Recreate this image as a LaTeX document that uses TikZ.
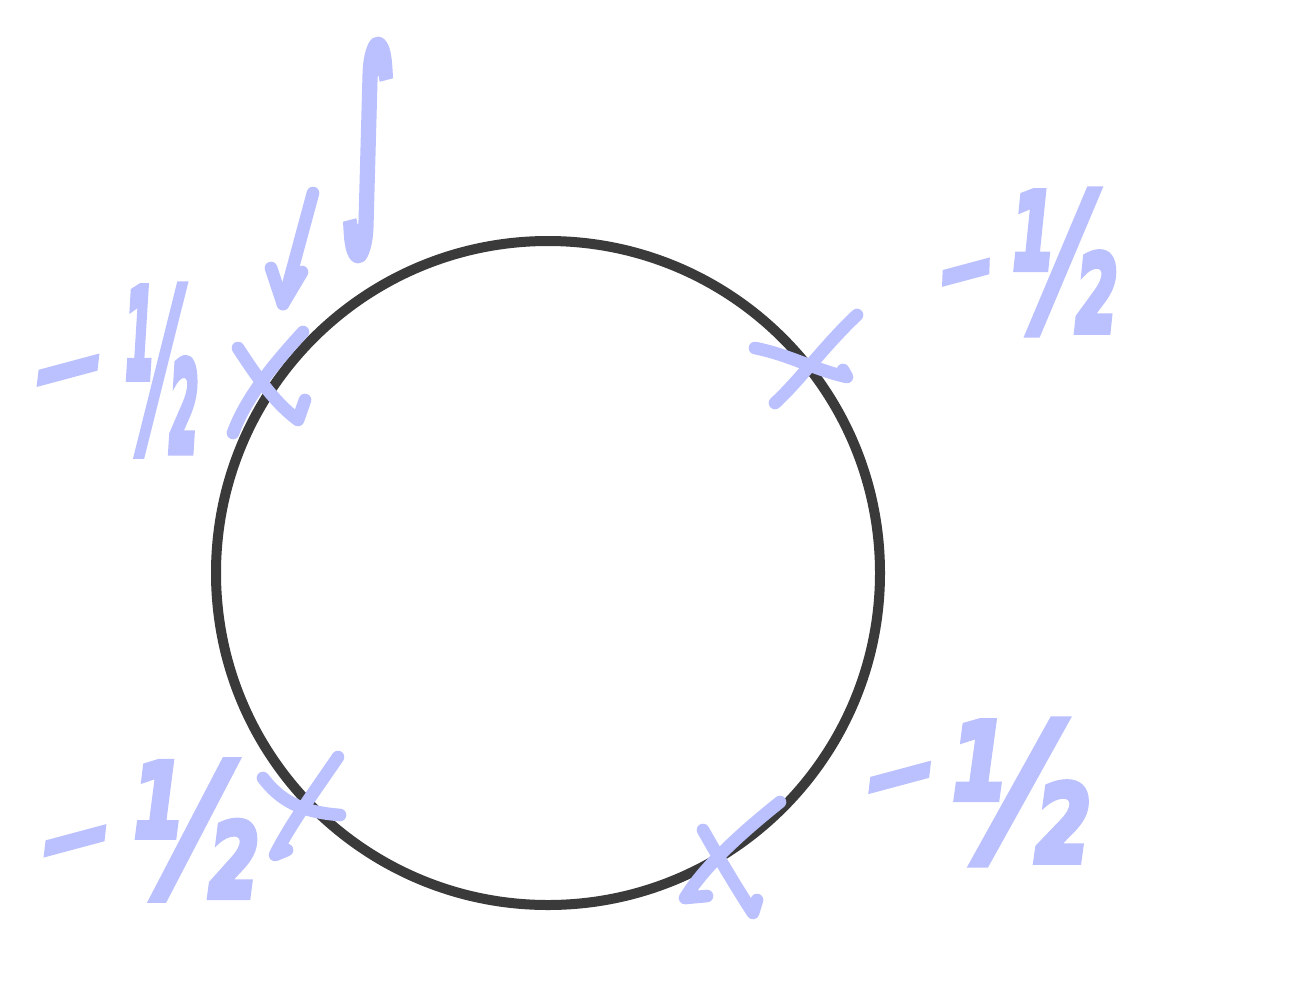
\documentclass[tikz,border=0pt]{standalone}
\usepackage{fontspec}
\setmainfont{DejaVu Sans}
\newfontfamily\lblfont[FakeBold=3]{DejaVu Sans Bold Oblique}
\newfontfamily\intfont[FakeBold=6]{DejaVu Sans Bold}
\usepackage{graphicx}
\definecolor{ink}{RGB}{187,193,255}
\definecolor{ringcol}{RGB}{58,58,58}
% #1 width of the fraction, #2 its height, #3 raise of the minus sign,
% #4 horizontal scale of the minus sign, #5 gap
\newcommand{\halflabel}[5]{\lblfont\fontsize{70}{70}\selectfont
 \raisebox{#3}{\rotatebox{15}{\scalebox{#4}[1]{-}}}\kern#5\resizebox*{#1}{#2}{½}}
\begin{document}
\begin{tikzpicture}[x=0.75pt,y=-0.75pt,
  pen/.style={draw=ink,line width=9.5pt,line cap=round,line join=round},
  lbl/.style={text=ink,inner sep=0pt}]
\useasboundingbox (0,0) rectangle (1302,1000);
\fill[white] (0,0) rectangle (1302,1000);
% circle
\node[circle,draw=ringcol,line width=7.5pt,minimum size=498pt,inner sep=0pt] (ring) at (548,573) {};
% x marks
\draw[pen] (238,348) .. controls (262,385) and (278,405) .. (298,420) -- (305,400);
\draw[pen] (303,332) .. controls (270,368) and (245,400) .. (233,433);
\draw[pen] (755,348) .. controls (790,355) and (815,370) .. (847,377) -- (843,370);
\draw[pen] (857,315) .. controls (825,345) and (800,380) .. (775,403);
\draw[pen] (263,778) .. controls (280,800) and (300,812) .. (340,815);
\draw[pen] (338,757) .. controls (312,795) and (290,825) .. (275,855) -- (287,850);
\draw[pen] (703,830) .. controls (720,860) and (738,890) .. (753,913) -- (757,900);
\draw[pen] (780,802) .. controls (745,830) and (705,865) .. (685,898) -- (707,896);
% arrow
\coordinate (arrtail) at (313,193);
\coordinate (arrtip) at (283,304);
\draw[pen] (arrtail) -- (arrtip);
\draw[pen] (arrtip) -- ++(-12,-36) (arrtip) -- ++(19,-32);
% integral
\node[lbl] (int) at (370,150) {\resizebox*{38pt}{160pt}{\intfont ∫}};
% labels
\node[lbl] (l1) at (114,370) {\halflabel{55pt}{128pt}{35pt}{2}{6pt}};
\node[lbl] (l2) at (1026,262) {\halflabel{79pt}{109pt}{20pt}{1.55}{4pt}};
\node[lbl] (l3) at (147,830) {\halflabel{94pt}{105pt}{16pt}{2}{6pt}};
\node[lbl] (l4) at (975,792) {\halflabel{104pt}{109pt}{37pt}{2}{1pt}};
\end{tikzpicture}
\end{document}
